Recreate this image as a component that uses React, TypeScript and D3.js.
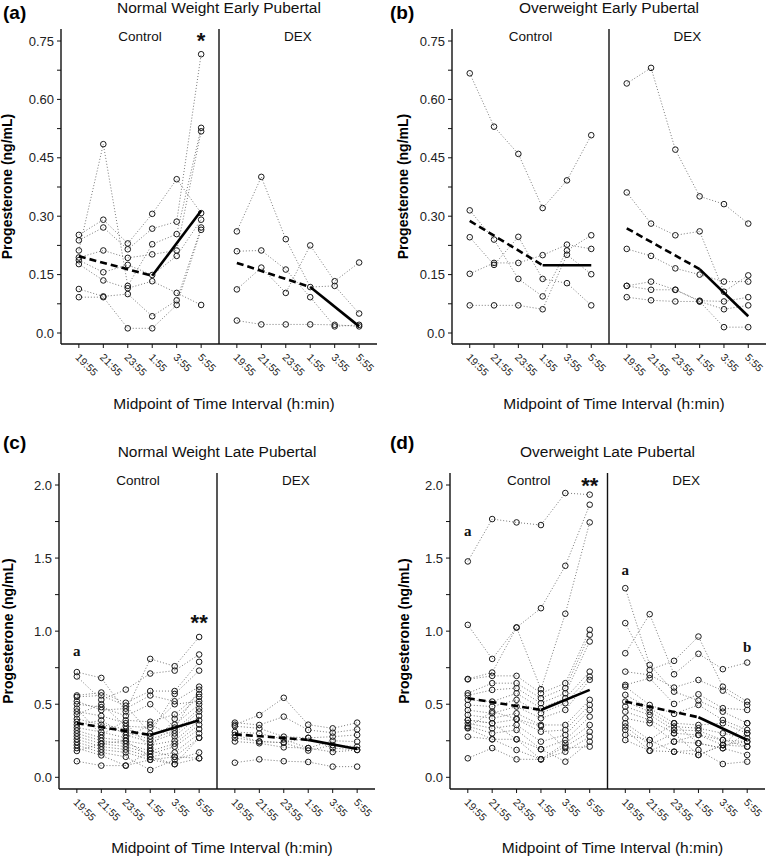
import React from "react";
import * as d3 from "d3";

const TIMES = ["19:55", "21:55", "23:55", "1:55", "3:55", "5:55"];
const KNOTS = ["19:55", "1:55", "5:55"];

// (a) Normal Weight Early Pubertal
const A_CONTROL: (number | null)[][] = [
  [0.252, 0.291, 0.23, 0.306, 0.395, 0.308],
  [0.238, 0.271, 0.215, 0.268, 0.286, 0.716],
  [0.212, 0.485, 0.121, 0.228, 0.254, 0.527],
  [0.194, 0.212, 0.193, 0.202, 0.212, 0.518],
  [0.187, 0.156, 0.175, 0.149, 0.198, 0.291],
  [0.177, 0.135, 0.115, 0.133, 0.103, 0.072],
  [0.113, 0.094, 0.1, 0.043, 0.084, 0.271],
  [0.092, 0.092, 0.012, 0.012, 0.072, 0.265],
];
const A_DEX: (number | null)[][] = [
  [0.261, 0.401, 0.241, 0.118, 0.121, 0.05],
  [0.21, 0.212, 0.163, 0.092, 0.017, 0.021],
  [0.112, 0.168, 0.103, 0.225, 0.133, 0.181],
  [0.032, 0.022, 0.022, 0.022, 0.021, 0.017],
];
const A_MEAN_CONTROL = [0.197, 0.147, 0.314];
const A_MEAN_DEX = [0.18, 0.118, 0.017];

// (b) Overweight Early Pubertal
const B_CONTROL: (number | null)[][] = [
  [0.667, 0.53, 0.46, 0.321, 0.392, 0.508],
  [0.315, 0.24, 0.139, 0.094, 0.212, 0.251],
  [0.246, 0.175, 0.247, 0.139, 0.128, 0.071],
  [0.152, 0.18, 0.18, 0.2, 0.227, 0.216],
  [0.071, 0.071, 0.071, 0.061, 0.201, 0.151],
];
const B_DEX: (number | null)[][] = [
  [0.641, 0.681, 0.471, 0.351, 0.331, 0.281],
  [0.361, 0.281, 0.251, 0.261, 0.106, 0.148],
  [0.216, 0.198, 0.166, 0.15, 0.132, 0.132],
  [0.121, 0.132, 0.111, 0.083, 0.081, 0.092],
  [0.121, 0.111, 0.111, 0.081, 0.061, 0.071],
  [0.092, 0.084, 0.081, 0.081, 0.015, 0.015],
];
const B_MEAN_CONTROL = [0.288, 0.174, 0.174];
const B_MEAN_DEX = [0.269, 0.164, 0.043];

// (c) Normal Weight Late Pubertal
const C_CONTROL: (number | null)[][] = [
  [0.72, 0.68, 0.45, 0.81, 0.76, 0.96],
  [0.69, 0.53, 0.6, 0.71, 0.73, 0.84],
  [0.56, 0.58, 0.51, 0.59, 0.59, 0.79],
  [0.55, 0.56, 0.49, 0.3, 0.57, 0.73],
  [0.52, 0.46, 0.47, 0.56, 0.52, 0.62],
  [0.5, 0.48, 0.42, 0.5, 0.34, 0.6],
  [0.47, 0.29, 0.39, 0.38, 0.43, 0.57],
  [0.45, 0.42, 0.37, 0.2, 0.4, 0.55],
  [0.43, 0.5, 0.35, 0.34, 0.5, 0.52],
  [0.4, 0.36, 0.33, 0.28, 0.36, 0.5],
  [0.38, 0.34, 0.31, 0.26, 0.32, 0.47],
  [0.36, 0.39, 0.29, 0.24, 0.3, 0.45],
  [0.34, 0.31, 0.27, 0.36, 0.28, 0.42],
  [0.32, 0.27, 0.25, 0.22, 0.25, 0.39],
  [0.3, 0.25, 0.23, 0.18, 0.23, 0.36],
  [0.28, 0.23, 0.21, 0.16, 0.21, 0.33],
  [0.26, 0.21, 0.19, 0.14, 0.17, 0.3],
  [0.24, 0.19, 0.17, 0.12, 0.14, 0.27],
  [0.22, 0.17, 0.14, 0.05, 0.12, 0.17],
  [0.2, 0.15, 0.08, 0.12, 0.09, 0.13],
  [0.18, 0.23, 0.25, 0.14, 0.09, 0.27],
  [0.11, 0.08, 0.08, 0.18, 0.14, 0.13],
];
const C_DEX: (number | null)[][] = [
  [0.36, 0.426, 0.544, 0.36, 0.335, 0.374],
  [0.374, 0.358, 0.415, 0.324, 0.305, 0.328],
  [0.35, 0.335, 0.278, 0.27, 0.278, 0.29],
  [0.31, 0.3, 0.26, 0.2, 0.25, 0.244],
  [0.27, 0.245, 0.237, 0.183, 0.22, 0.21],
  [0.245, 0.233, 0.205, 0.2, 0.173, 0.187],
  [0.29, 0.245, 0.237, 0.27, 0.2, 0.187],
  [0.1, 0.123, 0.11, 0.105, 0.073, 0.073],
];
const C_MEAN_CONTROL = [0.37, 0.29, 0.39];
const C_MEAN_DEX = [0.294, 0.256, 0.194];

// (d) Overweight Late Pubertal
const D_CONTROL: (number | null)[][] = [
  [1.477, 1.767, 1.744, 1.726, 1.945, 1.934],
  [1.043, 0.81, 1.025, 1.157, 1.447, 1.865],
  [0.673, 0.717, 1.025, 0.603, 1.119, 1.744],
  [0.67, 0.694, 0.694, 0.575, 0.644, 1.009],
  [0.575, 0.644, 0.644, 0.541, 0.61, 0.975],
  [0.56, 0.598, 0.61, 0.507, 0.575, 0.929],
  [0.53, 0.518, 0.575, 0.473, 0.541, 0.723],
  [0.495, 0.484, 0.53, 0.438, 0.507, 0.689],
  [0.46, 0.438, 0.484, 0.404, 0.461, 0.667],
  [0.427, 0.404, 0.438, 0.358, 0.358, 0.53],
  [0.392, 0.37, 0.397, 0.312, 0.324, 0.495],
  [0.37, 0.335, 0.358, 0.244, 0.29, 0.461],
  [0.35, 0.301, 0.324, 0.192, 0.255, 0.415],
  [0.335, 0.26, 0.26, 0.123, 0.233, 0.358],
  [0.278, 0.26, 0.187, 0.123, 0.21, 0.312],
  [0.13, 0.2, 0.123, 0.123, 0.175, 0.278],
  [0.392, 0.37, 0.26, 0.192, 0.107, 0.244],
  [0.34, 0.45, 0.4, 0.35, 0.2, 0.21],
];
const D_DEX: (number | null)[][] = [
  [1.294, 0.769, 0.586, 0.525, 0.449, 0.37],
  [0.849, 1.116, 0.705, 0.845, 0.74, 0.785],
  [1.055, 0.735, 0.797, 0.963, 0.62, 0.518],
  [0.723, 0.7, 0.614, 0.666, 0.593, 0.495],
  [0.632, 0.678, 0.502, 0.568, 0.473, 0.461],
  [0.62, 0.495, 0.434, 0.495, 0.392, 0.324],
  [0.564, 0.473, 0.37, 0.358, 0.37, 0.301],
  [0.518, 0.449, 0.347, 0.336, 0.301, 0.267],
  [0.484, 0.427, 0.324, 0.319, 0.255, 0.244],
  [0.449, 0.392, 0.301, 0.29, 0.221, 0.21],
  [0.404, 0.37, 0.244, 0.233, 0.199, 0.153],
  [0.37, 0.255, 0.175, 0.187, 0.091, 0.107],
  [0.347, 0.221, 0.301, 0.153, 0.221, 0.244],
  [0.324, 0.182, 0.244, 0.29, 0.255, 0.21],
  [0.29, 0.255, 0.37, 0.233, 0.199, 0.301],
  [0.255, 0.182, 0.175, 0.153, 0.221, 0.37],
];
const D_MEAN_CONTROL = [0.541, 0.461, 0.598];
const D_MEAN_DEX = [0.518, 0.411, 0.255];

// annotations: text, facet, time, value at glyph centre, kind
type Note = { text: string; facet: "C" | "D"; time: string; value: number; kind: "star" | "letter" | "asc" };
const A_NOTES: Note[] = [{ text: "*", facet: "C", time: "5:55", value: 0.763, kind: "star" }];
const B_NOTES: Note[] = [];
const C_NOTES: Note[] = [
  { text: "**", facet: "C", time: "5:55", value: 1.091, kind: "star" },
  { text: "a", facet: "C", time: "19:55", value: 0.852, kind: "letter" },
];
const D_NOTES: Note[] = [
  { text: "**", facet: "C", time: "5:55", value: 2.03, kind: "star" },
  { text: "a", facet: "C", time: "19:55", value: 1.673, kind: "letter" },
  { text: "a", facet: "D", time: "19:55", value: 1.408, kind: "letter" },
  { text: "b", facet: "D", time: "5:55", value: 0.892, kind: "asc" },
];

const fmtTop = (d: number) => (d === 0 ? "0.0" : d3.format(".2f")(d));
const fmtBot = (d: number) => d3.format(".1f")(d);

const TOP_ROW = { plotTop: 29, zeroY: 333, maxY: 41, axisY: 344, titleY: 12.5, facetY: 41, xTitleY: 409, labelY: 19 };
const BOT_ROW = { plotTop: 473, zeroY: 777.3, maxY: 485, axisY: 789, titleY: 457, facetY: 485, xTitleY: 853, labelY: 449 };

const PANELS = [
  { label: "(a)", labelX: 3, title: "Normal Weight Early Pubertal", left: 61, right: 377, row: TOP_ROW, yMax: 0.75, major: 0.15, minor: 0.075, fmt: fmtTop, yTitleX: 12, control: A_CONTROL, dex: A_DEX, meanC: A_MEAN_CONTROL, meanD: A_MEAN_DEX, notes: A_NOTES },
  { label: "(b)", labelX: 390, title: "Overweight Early Pubertal", left: 452, right: 766, row: TOP_ROW, yMax: 0.75, major: 0.15, minor: 0.075, fmt: fmtTop, yTitleX: 408, control: B_CONTROL, dex: B_DEX, meanC: B_MEAN_CONTROL, meanD: B_MEAN_DEX, notes: B_NOTES },
  { label: "(c)", labelX: 3, title: "Normal Weight Late Pubertal", left: 59, right: 375, row: BOT_ROW, yMax: 2.0, major: 0.5, minor: 0.25, fmt: fmtBot, yTitleX: 13, control: C_CONTROL, dex: C_DEX, meanC: C_MEAN_CONTROL, meanD: C_MEAN_DEX, notes: C_NOTES },
  { label: "(d)", labelX: 390, title: "Overweight Late Pubertal", left: 450, right: 765, row: BOT_ROW, yMax: 2.0, major: 0.5, minor: 0.25, fmt: fmtBot, yTitleX: 409, control: D_CONTROL, dex: D_DEX, meanC: D_MEAN_CONTROL, meanD: D_MEAN_DEX, notes: D_NOTES },
];

const SANS = "'Liberation Sans', Arial, Helvetica, sans-serif";
const SERIF = "'Liberation Serif', 'Times New Roman', serif";

function Facet({ data, mean, x, y }: { data: (number | null)[][]; mean: number[]; x: d3.ScalePoint<string>; y: d3.ScaleLinear<number, number> }) {
  const line = d3
    .line<number | null>()
    .defined((v) => v != null)
    .x((_, i) => x(TIMES[i]) as number)
    .y((v) => y(v as number));
  const dashed = d3
    .line<number>()
    .x((_, i) => x(KNOTS[i]) as number)
    .y((v) => y(v));
  const solid = d3
    .line<number>()
    .x((_, i) => x(KNOTS[i + 1]) as number)
    .y((v) => y(v));
  return (
    <g>
      {data.map((s, i) => (
        <path key={"l" + i} d={line(s) || ""} fill="none" stroke="#6a6a6a" strokeWidth={0.9} strokeDasharray="1,2" />
      ))}
      {data.map((s, i) =>
        s.map((v, j) =>
          v == null ? null : (
            <circle key={"c" + i + "_" + j} cx={x(TIMES[j])} cy={y(v)} r={2.8} fill="none" stroke="#1a1a1a" strokeWidth={1} />
          )
        )
      )}
      <path d={dashed([mean[0], mean[1]]) || ""} fill="none" stroke="#000" strokeWidth={2.6} strokeDasharray="7,4" />
      <path d={solid([mean[1], mean[2]]) || ""} fill="none" stroke="#000" strokeWidth={2.6} />
    </g>
  );
}

function Panel({ p }: { p: (typeof PANELS)[number] }) {
  const r = p.row;
  const mid = (p.left + p.right) / 2;
  const y = d3.scaleLinear().domain([0, p.yMax]).range([r.zeroY, r.maxY]);
  const xC = d3.scalePoint<string>().domain(TIMES).range([p.left, mid]).padding(0.73);
  const xD = d3.scalePoint<string>().domain(TIMES).range([mid, p.right]).padding(0.73);
  const majors = d3.range(0, p.yMax + 1e-9, p.major);
  const minors = d3.range(0, p.yMax + 1e-9, p.minor);
  const center = (p.left + p.right) / 2;
  return (
    <g>
      <text x={p.labelX} y={r.labelY} fontFamily={SANS} fontWeight="bold" fontSize={19} fill="#000">
        {p.label}
      </text>
      <text x={center} y={r.titleY} textAnchor="middle" fontFamily={SANS} fontSize={15.5} fill="#111">
        {p.title}
      </text>
      <text x={(p.left + mid) / 2} y={r.facetY} textAnchor="middle" fontFamily={SANS} fontSize={13.5} fill="#111">
        Control
      </text>
      <text x={(mid + p.right) / 2} y={r.facetY} textAnchor="middle" fontFamily={SANS} fontSize={13.5} fill="#111">
        DEX
      </text>
      <text
        transform={`translate(${p.yTitleX},${(r.plotTop + r.axisY) / 2}) rotate(-90)`}
        textAnchor="middle"
        fontFamily={SANS}
        fontWeight="bold"
        fontSize={14}
        fill="#000"
      >
        Progesterone (ng/mL)
      </text>
      <text x={center + 5} y={r.xTitleY} textAnchor="middle" fontFamily={SANS} fontSize={15.5} fill="#111">
        Midpoint of Time Interval (h:min)
      </text>
      {minors.map((t, i) => (
        <line key={"mt" + i} x1={p.left - 4} x2={p.left} y1={y(t)} y2={y(t)} stroke="#111" strokeWidth={1} />
      ))}
      {majors.map((t, i) => (
        <text key={"yl" + i} x={p.left - 7} y={y(t)} dy="0.35em" textAnchor="end" fontFamily={SANS} fontSize={13} fill="#222">
          {p.fmt(t)}
        </text>
      ))}
      <line x1={p.left} x2={p.left} y1={r.plotTop} y2={r.axisY} stroke="#111" strokeWidth={1.4} />
      <line x1={p.left} x2={p.right} y1={r.axisY} y2={r.axisY} stroke="#111" strokeWidth={1.4} />
      <line x1={mid} x2={mid} y1={r.plotTop} y2={r.axisY} stroke="#111" strokeWidth={1.4} />
      {[xC, xD].map((x, k) =>
        TIMES.map((t) => (
          <g key={"xt" + k + t}>
            <line x1={x(t)} x2={x(t)} y1={r.axisY} y2={r.axisY + 4} stroke="#111" strokeWidth={1} />
            <text
              transform={`translate(${(x(t) as number) - 4},${r.axisY + 14}) rotate(45)`}
              fontFamily={SANS}
              fontSize={10.5}
              fill="#222"
            >
              {t}
            </text>
          </g>
        ))
      )}
      <Facet data={p.control} mean={p.meanC} x={xC} y={y} />
      <Facet data={p.dex} mean={p.meanD} x={xD} y={y} />
      {p.notes.map((n, i) => {
        const x = n.facet === "C" ? xC : xD;
        const cy = y(n.value);
        if (n.kind === "star")
          return (
            <text key={"n" + i} x={x(n.time)} y={cy + 12.5} textAnchor="middle" fontFamily={SANS} fontWeight="bold" fontSize={22} fill="#111">
              {n.text}
            </text>
          );
        return (
          <text key={"n" + i} x={x(n.time)} y={cy + (n.kind === "asc" ? 5 : 3.5)} textAnchor="middle" fontFamily={SERIF} fontWeight="bold" fontSize={15} fill="#111">
            {n.text}
          </text>
        );
      })}
    </g>
  );
}

export default function App() {
  return (
    <svg width={768} height={858} style={{ position: "absolute", left: 0, top: 0, background: "#fff" }}>
      <rect width={768} height={858} fill="#fff" />
      {PANELS.map((p) => (
        <Panel key={p.label} p={p} />
      ))}
    </svg>
  );
}
